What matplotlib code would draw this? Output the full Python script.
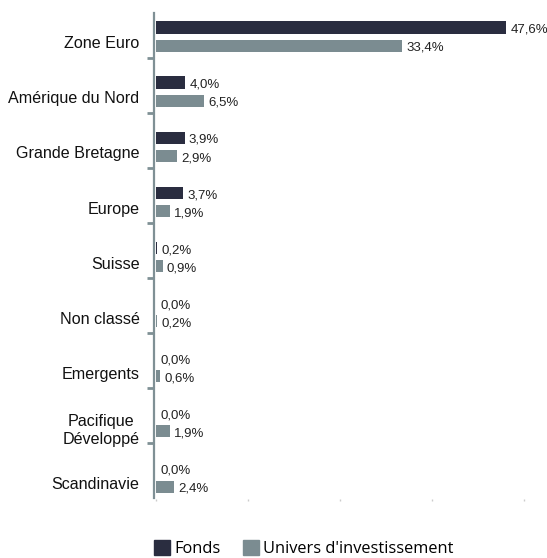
import numpy as np
import matplotlib
matplotlib.use("Agg")
import matplotlib.pyplot as plt
from matplotlib.patches import Patch

# Donnees
regions = ['Zone Euro', 'Amérique du Nord', 'Grande Bretagne', 'Europe', 'Suisse',
           'Non classé', 'Emergents', 'Pacifique\nDéveloppé', 'Scandinavie']
fonds = [47.6, 4.0, 3.9, 3.7, 0.2, 0.0, 0.0, 0.0, 0.0]
univers = [33.4, 6.5, 2.9, 1.9, 0.9, 0.2, 0.6, 1.9, 2.4]
x_ticks = [0, 12.5, 25, 37.5, 50]

col_fonds = '#2a2d40'
col_univers = '#7b8c91'
col_axe = '#7f9095'

plt.rcParams['font.family'] = ['Liberation Sans', 'DejaVu Sans']

fig = plt.figure(figsize=(5.47, 5.58), dpi=100)
ax = fig.add_axes([156 / 547, (558 - 498.5) / 558, (524 - 156) / 547, 496 / 558])

y = np.arange(len(regions))
b1 = ax.barh(y - 0.046, fonds, height=0.223, color=col_fonds)
b2 = ax.barh(y + 0.283, univers, height=0.218, color=col_univers)

def fmt(v):
    return f"{v:.1f}%".replace('.', ',')

for bars, vals in ((b1, fonds), (b2, univers)):
    for rect, v in zip(bars, vals):
        ax.annotate(fmt(v), (rect.get_width(), rect.get_y() + rect.get_height() / 2),
                    xytext=(3.0, -1.6), textcoords='offset points',
                    ha='left', va='center', fontsize=9.5, color='#222222')

ax.set_xlim(0, 50)
ax.set_ylim(8.5, -0.5)

for s in ['top', 'right', 'bottom']:
    ax.spines[s].set_visible(False)
ax.spines['left'].set_color(col_axe)
ax.spines['left'].set_linewidth(1.6)
ax.spines['left'].set_position(('outward', 1.3))
ax.spines['left'].set_bounds(-0.317, 8.5)

# graduations entre categories
ax.set_yticks(np.arange(0.5, 8.5, 1))
ax.set_yticklabels([])
ax.tick_params(axis='y', which='major', length=5, width=2, color=col_axe)
# libelles des categories
ax.set_yticks(y + 0.22, minor=True)
ax.set_yticklabels(regions, minor=True, fontsize=11.6, color='#111111')
ax.tick_params(axis='y', which='minor', length=0, pad=10.5)
for lab in ax.get_yticklabels(minor=True):
    lab.set_multialignment('center')

ax.set_xticks(x_ticks)
ax.set_xticklabels([])
ax.tick_params(axis='x', length=1.5, width=1, color='#cccccc')

handles = [Patch(color=col_fonds, label='Fonds'),
           Patch(color=col_univers, label="Univers d'investissement")]
fig.legend(handles=handles, loc='upper left', bbox_to_anchor=(154 / 547, (558 - 540) / 558),
           ncol=2, frameon=False, handlelength=1.0, handleheight=1.0,
           handletextpad=0.25, columnspacing=1.35, borderpad=0, borderaxespad=0,
           prop={'family': 'Open Sans', 'size': 11.8})

fig.savefig('out.png', dpi=100)
